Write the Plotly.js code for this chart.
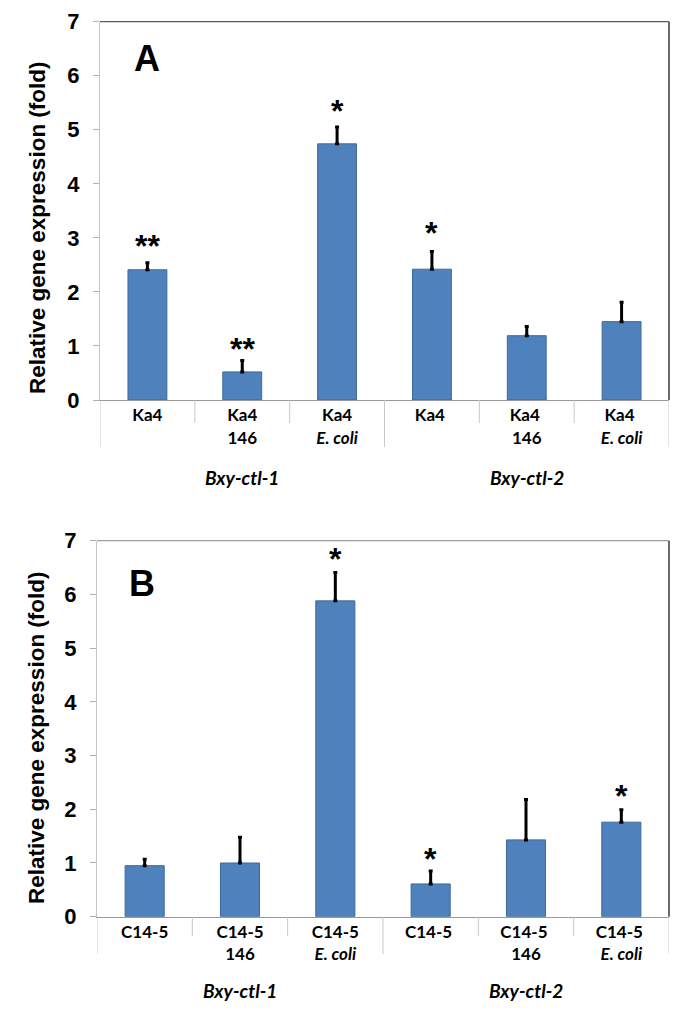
<!DOCTYPE html>
<html><head><meta charset="utf-8">
<script src="https://cdn.plot.ly/plotly-3.0.1.min.js"></script>
<style>html,body{margin:0;padding:0;background:#fff}</style>
</head><body><div id="chart" style="width:685px;height:1027px"></div>
<script>
// Panel A data
const catsA = ['Ka4', 'Ka4<br>146', 'Ka4<br><i>E. coli</i>', 'Ka4 ', 'Ka4 <br>146', 'Ka4 <br><i>E. coli</i>'];
const valsA = [2.41, 0.52, 4.74, 2.42, 1.19, 1.45];
const errA  = [0.13, 0.21, 0.31, 0.33, 0.17, 0.36];
const starsA = ['**', '**', '*', '*', '', ''];
const starYA = [3.0, 1.1, 5.49, 3.23, 0, 0];

// Panel B data
const catsB = ['C14-5', 'C14-5<br>146', 'C14-5<br><i>E. coli</i>', 'C14-5 ', 'C14-5 <br>146', 'C14-5 <br><i>E. coli</i>'];
const valsB = [0.95, 1.00, 5.88, 0.61, 1.43, 1.76];
const errB  = [0.12, 0.48, 0.53, 0.24, 0.75, 0.23];
const starsB = ['', '', '*', '*', '', '*'];
const starYB = [0, 0, 6.80, 1.23, 0, 2.40];

const groups = ['Bxy-ctl-1', 'Bxy-ctl-2'];
const yTitle = 'Relative gene expression (fold)';
const panelLetters = ['A', 'B'];

const W = 685, H = 1027;
const px = x => x / W;
const py = y => 1 - y / H;

const barColor = '#4F81BD';

function barTrace(cats, vals, errs, xa, ya) {
  return {
    type: 'bar', x: cats, y: vals, xaxis: xa, yaxis: ya,
    marker: {color: barColor, line: {color: '#3d6a9c', width: 1}},
    error_y: {type: 'data', symmetric: false, array: errs, arrayminus: errs.map(() => 0),
      color: '#000', thickness: 3, width: 2},
    hoverinfo: 'none', showlegend: false
  };
}

const data = [
  barTrace(catsA, valsA, errA, 'x', 'y'),
  barTrace(catsB, valsB, errB, 'x2', 'y2')
];

function xaxisDef(dom, cats) {
  return {
    domain: dom, type: 'category', range: [-0.5, 5.5],
    categoryorder: 'array', categoryarray: cats,
    showline: true, linecolor: '#999999', linewidth: 1,
    ticks: '', showgrid: false, zeroline: false, fixedrange: true,
    tickfont: {family: 'Lato, Arial, sans-serif', size: 17, color: '#000', weight: 'bold'}
  };
}
function yaxisDef(dom) {
  return {
    domain: dom, range: [0, 7], dtick: 1,
    showline: true, linecolor: '#c4c4c4', linewidth: 1,
    ticks: 'outside', ticklen: 6, tickcolor: '#b0b0b0', ticklabelstandoff: 9,
    showgrid: false, zeroline: false, fixedrange: true,
    tickfont: {family: 'Arial, Liberation Sans, sans-serif', size: 22, color: '#000', weight: 'bold'}
  };
}

const xA = [px(100), px(669)], yA = [py(400), py(21.7)];
const xB = [px(97), px(669)], yB = [py(916.7), py(540.7)];

const annotations = [];
function addStars(stars, ys, cats, xr, yr) {
  stars.forEach((s, i) => {
    if (!s) return;
    annotations.push({xref: xr, yref: yr, x: cats[i], y: ys[i], text: s, showarrow: false, yshift: -8,
      font: {family: 'Arial, sans-serif', size: 32, color: '#000', weight: 'bold'}, yanchor: 'middle'});
  });
}
addStars(starsA, starYA, catsA, 'x', 'y');
addStars(starsB, starYB, catsB, 'x2', 'y2');

// group labels
function addGroups(cats, xr, yPix) {
  [cats[1], cats[4]].forEach((c, i) => {
    annotations.push({xref: xr, yref: 'paper', x: c, y: py(yPix), text: '<b><i>' + groups[i] + '</i></b>', showarrow: false,
      font: {family: 'Lato, Arial, sans-serif', size: 19, color: '#000'}, yanchor: 'middle'});
  });
}
addGroups(catsA, 'x', 477);
addGroups(catsB, 'x2', 990);

// y-axis titles
annotations.push({xref: 'paper', yref: 'paper', x: px(38), y: py(228), text: '<b>' + yTitle + '</b>', textangle: -90,
  showarrow: false, font: {family: 'Arial, Liberation Sans, sans-serif', size: 22.5, color: '#000'}, xanchor: 'center', yanchor: 'middle'});
annotations.push({xref: 'paper', yref: 'paper', x: px(36), y: py(738), text: '<b>' + yTitle + '</b>', textangle: -90,
  showarrow: false, font: {family: 'Arial, Liberation Sans, sans-serif', size: 22.5, color: '#000'}, xanchor: 'center', yanchor: 'middle'});

// panel letters
annotations.push({xref: 'paper', yref: 'paper', x: px(132), y: py(59), text: '<b>' + panelLetters[0] + '</b>', showarrow: false,
  font: {family: 'Arial, sans-serif', size: 36, color: '#000'}, yanchor: 'middle'});
annotations.push({xref: 'paper', yref: 'paper', x: px(127), y: py(583), text: '<b>' + panelLetters[1] + '</b>', showarrow: false,
  font: {family: 'Arial, sans-serif', size: 36, color: '#000'}, yanchor: 'middle'});

// separators below the axes and plot frame
const shapes = [];
const bounds = [-0.5, 0.5, 1.5, 2.5, 3.5, 4.5, 5.5];
function seps(xr, y0, yShort, yLong) {
  bounds.forEach((b, i) => {
    const long = (i === 0 || i === 3 || i === 6);
    shapes.push({type: 'line', xref: xr, yref: 'paper', x0: b, x1: b, y0: py(y0), y1: py(long ? yLong : yShort),
      line: {color: '#c8c8c8', width: 1}});
  });
}
seps('x', 400, 423, 447);
seps('x2', 916.7, 936, 954);

function frame(xd, yd, topColor) {
  shapes.push({type: 'line', xref: 'paper', yref: 'paper', x0: xd[0], x1: xd[1], y0: yd[1], y1: yd[1],
    line: {color: topColor, width: 1.2}});
  shapes.push({type: 'line', xref: 'paper', yref: 'paper', x0: xd[1], x1: xd[1], y0: yd[0], y1: yd[1],
    line: {color: '#3a3a3a', width: 1.5}});
}
frame(xA, yA, '#5a5a5a');
frame(xB, yB, '#a0a0a0');

const layout = {
  width: W, height: H, margin: {l: 0, r: 0, t: 0, b: 0},
  paper_bgcolor: '#fff', plot_bgcolor: '#fff',
  bargap: 0.59, showlegend: false,
  xaxis: Object.assign(xaxisDef(xA, catsA), {anchor: 'y'}),
  yaxis: Object.assign(yaxisDef(yA), {anchor: 'x'}),
  xaxis2: Object.assign(xaxisDef(xB, catsB), {anchor: 'y2'}),
  yaxis2: Object.assign(yaxisDef(yB), {anchor: 'x2'}),
  annotations: annotations, shapes: shapes
};

Plotly.newPlot('chart', data, layout, {staticPlot: true, displayModeBar: false});
</script></body></html>
